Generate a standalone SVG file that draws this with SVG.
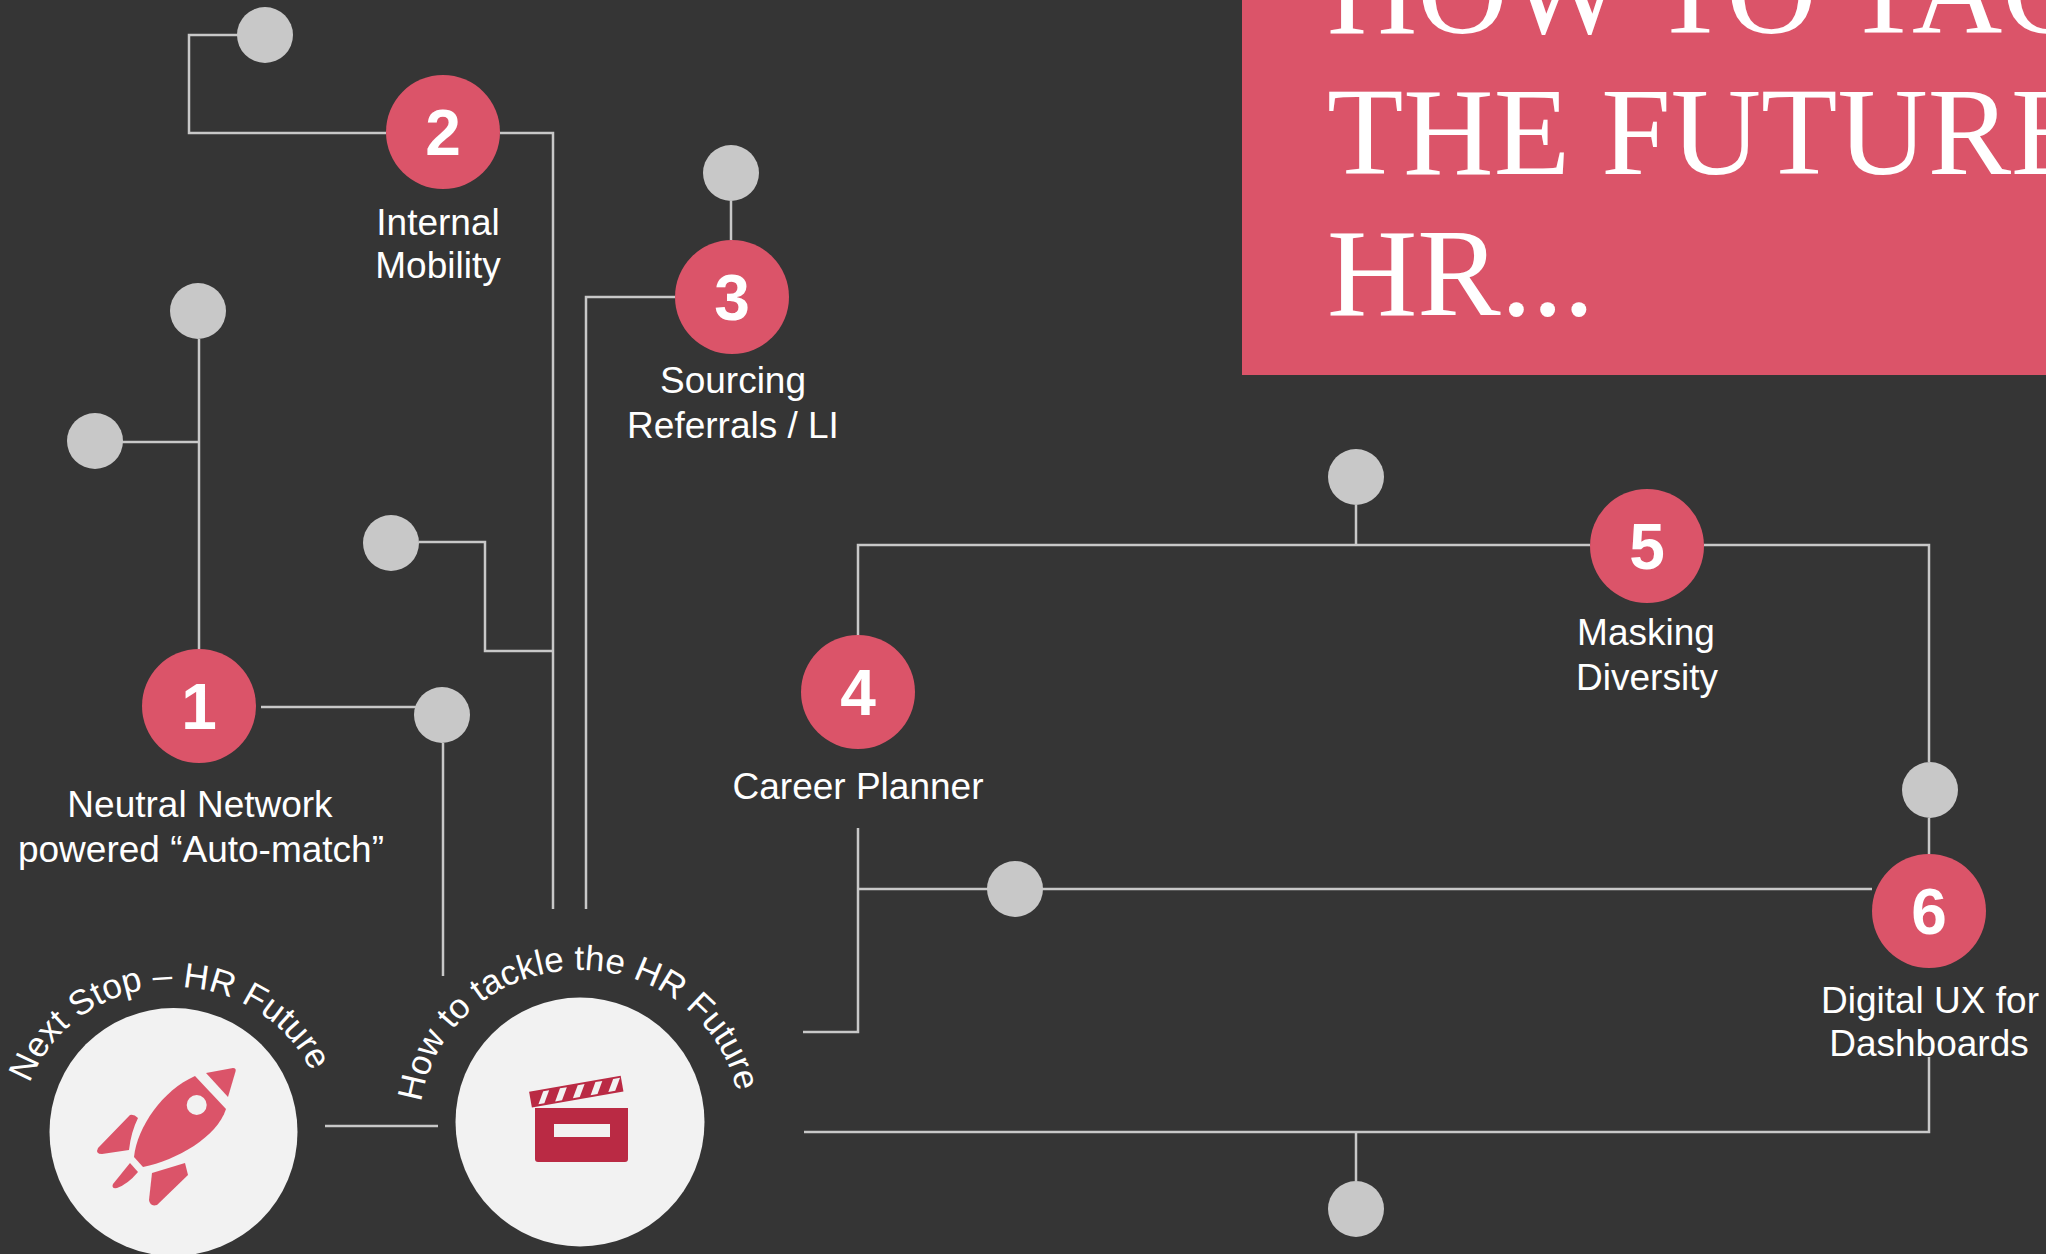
<svg xmlns="http://www.w3.org/2000/svg" xmlns:xlink="http://www.w3.org/1999/xlink" width="2046" height="1254" viewBox="0 0 2046 1254">
<style>
.ln{fill:none;stroke:#c8c8c8;stroke-width:2.5}
.dot{fill:#c8c8c8}
.pk{fill:#db5469}
.nt{font-family:"Liberation Sans",Arial,sans-serif;font-weight:bold;font-size:64px;fill:#fff;text-anchor:middle}
.lb{font-family:"Liberation Sans",Arial,sans-serif;font-size:37px;fill:#fff;text-anchor:middle}
.arc{font-family:"Liberation Sans",Arial,sans-serif;font-size:35px;fill:#fff}
.title{font-family:"Liberation Serif","Times New Roman",serif;font-size:125px;fill:#fff}
.hub{fill:#f2f2f2}
</style>
<defs>
<path id="arcL" d="M 30.2 1082.4 A 152 145 0 0 1 310.8 1070.7"/>
<path id="arcR" d="M 420.6 1108.8 A 160 152 0 0 1 738 1098.2"/>
</defs>
<rect width="2046" height="1254" fill="#353535"/>

<g id="title">
<rect x="1242" y="-10" width="820" height="385" class="pk"/>
<text class="title" x="1327"><tspan x="1327" y="33">HOW TO TACKLE</tspan><tspan x="1327" y="174">THE FUTURE OF</tspan><tspan x="1327" y="315">HR...</tspan></text>
</g>

<g id="connectors">
<path class="ln" d="M 238 35 H 189 V 133 H 386"/>
<path class="ln" d="M 500 133 H 553 V 909"/>
<path class="ln" d="M 731 201 V 240"/>
<path class="ln" d="M 675 297 H 586 V 909"/>
<path class="ln" d="M 199 339 V 649"/>
<path class="ln" d="M 122 442 H 199"/>
<path class="ln" d="M 419 542 H 485 V 651 H 553"/>
<path class="ln" d="M 261 707 H 416"/>
<path class="ln" d="M 443 743 V 976"/>
<path class="ln" d="M 325 1126 H 438"/>
<path class="ln" d="M 858 636 V 545 H 1590"/>
<path class="ln" d="M 1356 505 V 545"/>
<path class="ln" d="M 1704 545 H 1929 V 762"/>
<path class="ln" d="M 1929 818 V 854"/>
<path class="ln" d="M 1872 889 H 858"/>
<path class="ln" d="M 858 828 V 1032 H 803"/>
<path class="ln" d="M 804 1132 H 1929 V 1057"/>
<path class="ln" d="M 1356 1132 V 1181"/>
</g>

<g id="dot-a"><circle class="dot" cx="265" cy="35" r="28"/></g>
<g id="dot-b"><circle class="dot" cx="731" cy="173" r="28"/></g>
<g id="dot-c"><circle class="dot" cx="198" cy="311" r="28"/></g>
<g id="dot-d"><circle class="dot" cx="95" cy="441" r="28"/></g>
<g id="dot-e"><circle class="dot" cx="391" cy="543" r="28"/></g>
<g id="dot-f"><circle class="dot" cx="442" cy="715" r="28"/></g>
<g id="dot-g"><circle class="dot" cx="1356" cy="477" r="28"/></g>
<g id="dot-h"><circle class="dot" cx="1930" cy="790" r="28"/></g>
<g id="dot-i"><circle class="dot" cx="1015" cy="889" r="28"/></g>
<g id="dot-j"><circle class="dot" cx="1356" cy="1209" r="28"/></g>

<g id="node1">
<circle class="pk" cx="199" cy="706" r="57"/>
<text class="nt" x="199" y="729">1</text>
<text class="lb" x="200" y="817">Neutral Network</text>
<text class="lb" x="201" y="862">powered “Auto-match”</text>
</g>
<g id="node2">
<circle class="pk" cx="443" cy="132" r="57"/>
<text class="nt" x="443" y="155">2</text>
<text class="lb" x="438" y="235">Internal</text>
<text class="lb" x="438" y="278">Mobility</text>
</g>
<g id="node3">
<circle class="pk" cx="732" cy="297" r="57"/>
<text class="nt" x="732" y="320">3</text>
<text class="lb" x="733" y="393">Sourcing</text>
<text class="lb" x="733" y="438">Referrals / LI</text>
</g>
<g id="node4">
<circle class="pk" cx="858" cy="692" r="57"/>
<text class="nt" x="858" y="715">4</text>
<text class="lb" x="858" y="799">Career Planner</text>
</g>
<g id="node5">
<circle class="pk" cx="1647" cy="546" r="57"/>
<text class="nt" x="1647" y="569">5</text>
<text class="lb" x="1646" y="645">Masking</text>
<text class="lb" x="1647" y="690">Diversity</text>
</g>
<g id="node6">
<circle class="pk" cx="1929" cy="911" r="57"/>
<text class="nt" x="1929" y="934">6</text>
<text class="lb" x="1930" y="1013">Digital UX for</text>
<text class="lb" x="1929" y="1056">Dashboards</text>
</g>

<g id="hub-next-stop">
<circle class="hub" cx="173.5" cy="1132" r="124"/>
<text class="arc"><textPath xlink:href="#arcL" href="#arcL" startOffset="50%" text-anchor="middle">Next Stop – HR Future</textPath></text>
<g fill="#db5469">
<path d="M 206 1073 L 233 1068 Q 236.5 1068 235.5 1071.5 L 228 1097 Z"/>
<path d="M 195 1076 L 226 1109 C 217 1137 177 1160 143 1167 L 134 1157 C 137 1127 163 1090 195 1076 Z"/>
<circle cx="196.7" cy="1105" r="10" fill="#f2f2f2"/>
<path d="M 98 1148 L 130 1115 Q 134 1114 138 1118 Q 131 1132 129 1150 L 102 1154 Q 95 1154 98 1148 Z"/>
<path d="M 152 1173 L 185 1163 L 188 1175 L 157 1205 Q 150 1207 149 1200 Z"/>
<path d="M 130 1163 L 138 1172 Q 128 1184 117 1188 Q 111 1189 113 1184 Z"/>
</g>
</g>

<g id="hub-tackle">
<circle class="hub" cx="580" cy="1122" r="124.5"/>
<text class="arc"><textPath xlink:href="#arcR" href="#arcR" startOffset="50%" text-anchor="middle">How to tackle the HR Future</textPath></text>
<g fill="#ba2a44">
<path d="M 535 1108 H 628 V 1159 Q 628 1162 625 1162 H 538 Q 535 1162 535 1159 Z"/>
<g transform="rotate(-10 535 1108)">
<rect x="532" y="1091" width="93" height="16"/>
<g fill="#f2f2f2">
<polygon points="539,1105 545,1105 552,1093 546,1093"/>
<polygon points="556,1105 563,1105 570,1093 563,1093"/>
<polygon points="574,1105 581,1105 588,1093 581,1093"/>
<polygon points="592,1105 599,1105 606,1093 599,1093"/>
<polygon points="610,1105 617,1105 624,1093 617,1093"/>
</g>
</g>
<rect x="554" y="1124" width="56" height="13" fill="#f2f2f2"/>
</g>
</g>
</svg>
